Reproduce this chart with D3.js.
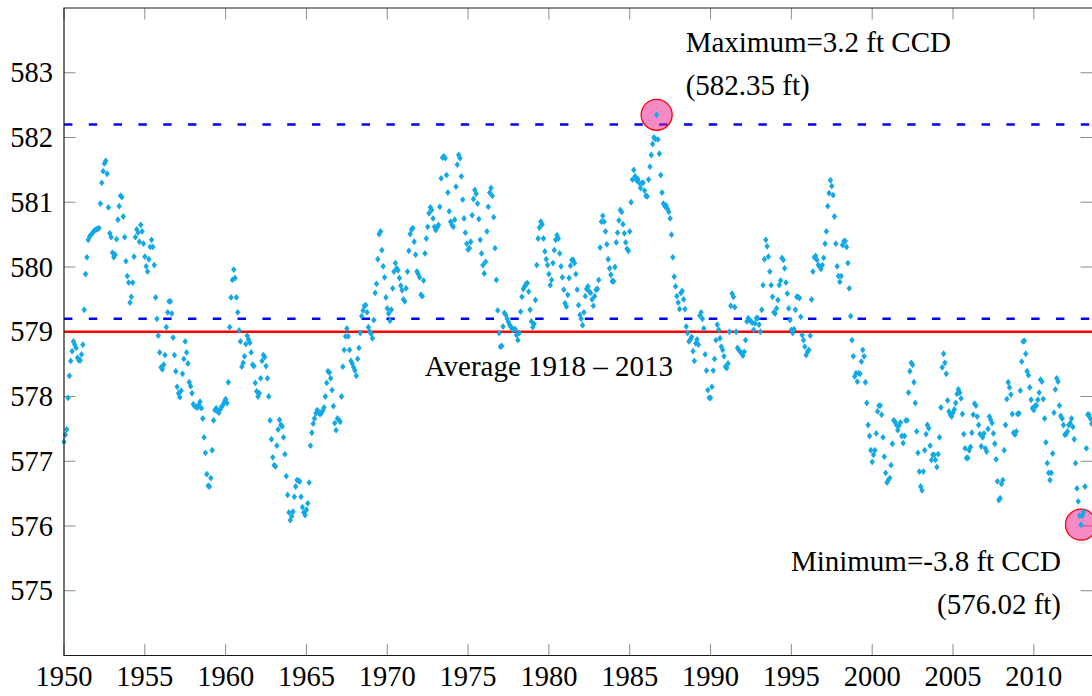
<!DOCTYPE html>
<html>
<head>
<meta charset="utf-8">
<script src="https://cdn.jsdelivr.net/npm/d3@7"></script>
<style>
  html, body { margin: 0; padding: 0; background: #fff; }
  svg { display: block; }
  text { font-family: 'Liberation Serif', 'Times New Roman', serif; fill: #000; }
</style>
</head>
<body>
<div id="chart"></div>
<script>
// monthly lake level (ft), one array per decade, starting January
const levels1950s = [
  577.30, 577.41, 577.49, 577.98, 578.32, 578.55, 578.70, 578.85, 578.80, 578.75, 578.60, 578.56,
  578.56, 578.65, 578.80, 579.34, 579.89, 580.15, 580.42, 580.47, 580.50, 580.52, 580.55, 580.57,
  580.58, 580.59, 580.60, 580.98, 581.30, 581.48, 581.60, 581.64, 581.44, 580.92, 580.52, 580.46,
  580.22, 580.15, 580.19, 580.43, 580.73, 580.94, 581.10, 581.08, 580.78, 580.46, 580.09, 579.86,
  579.76, 579.45, 579.54, 579.76, 580.16, 580.46, 580.58, 580.53, 580.39, 580.65, 580.55, 580.36,
  580.16, 580.01, 579.93, 580.12, 580.31, 580.42, 580.31, 580.03, 579.53, 579.20, 578.94, 578.68,
  578.45, 578.42, 578.49, 578.64, 579.07, 579.30, 579.47, 579.47, 579.28, 578.91, 578.64, 578.39,
  578.15, 578.05, 577.99, 578.09, 578.35, 578.58, 578.85, 578.68, 578.51, 578.22, 578.16, 578.05,
  577.88, 577.85, 577.84, 577.83, 577.87, 577.92, 577.82, 577.66, 577.37, 577.13, 576.80, 576.62,
  576.61, 576.74, 577.17, 577.63, 577.79, 577.82, 577.77, 577.75, 577.80, 577.84, 577.87, 577.92
];
const levels1960s = [
  577.96, 577.90, 578.22, 579.07, 579.53, 579.80, 579.96, 579.83, 579.53, 579.30, 579.02, 578.85,
  578.46, 578.52, 578.62, 578.81, 578.94, 578.88, 578.83, 578.68, 578.49, 578.47, 578.21, 578.08,
  578.00, 578.05, 578.28, 578.55, 578.64, 578.61, 578.47, 578.28, 578.00, 577.63, 577.34, 577.06,
  576.94, 576.92, 577.24, 577.49, 577.64, 577.56, 577.54, 577.37, 577.11, 576.77, 576.48, 576.21,
  576.09, 576.15, 576.22, 576.45, 576.61, 576.71, 576.70, 576.69, 576.45, 576.29, 576.21, 576.17,
  576.25, 576.35, 576.67, 577.24, 577.44, 577.58, 577.66, 577.74, 577.79, 577.75, 577.73, 577.74,
  577.78, 577.83, 578.00, 578.21, 578.39, 578.37, 578.28, 578.10, 577.85, 577.59, 577.48, 577.66,
  577.64, 577.61, 578.00, 578.46, 578.72, 578.93, 579.05, 578.93, 578.72, 578.55, 578.51, 578.45,
  578.40, 578.32, 578.58, 578.75, 578.98, 579.24, 579.33, 579.40, 579.41, 579.30, 579.07, 579.00,
  578.97, 578.90, 579.18, 579.60, 579.74, 580.12, 580.51, 580.55, 580.26, 580.01, 579.84, 579.53
];
const levels1970s = [
  579.36, 579.28, 579.17, 579.34, 579.67, 579.93, 580.06, 579.98, 579.95, 579.83, 579.71, 579.64,
  579.50, 579.47, 579.67, 579.93, 580.25, 580.51, 580.58, 580.60, 580.39, 580.19, 579.93, 579.89,
  579.84, 579.57, 579.55, 579.79, 580.21, 580.44, 580.62, 580.83, 580.92, 580.88, 580.75, 580.62,
  580.57, 580.61, 580.65, 580.93, 581.37, 581.69, 581.71, 581.68, 581.42, 581.15, 580.86, 580.70,
  580.65, 580.62, 580.73, 581.24, 581.58, 581.73, 581.68, 581.40, 581.04, 580.75, 580.53, 580.36,
  580.27, 580.29, 580.39, 580.80, 581.05, 581.19, 581.13, 580.98, 580.74, 580.42, 580.21, 580.03,
  579.90, 580.08, 580.55, 580.93, 581.15, 581.22, 581.10, 580.77, 580.29, 579.80, 579.33, 578.98,
  578.77, 578.78, 579.08, 579.29, 579.26, 579.20, 579.15, 579.10, 579.07, 579.03, 579.04, 579.04,
  578.95, 578.87, 578.98, 579.31, 579.54, 579.66, 579.70, 579.74, 579.75, 579.62, 579.34, 579.16,
  579.07, 579.12, 579.49, 580.03, 580.44, 580.61, 580.70, 580.66, 580.44, 580.24, 580.12, 580.03
];
const levels1980s = [
  579.89, 579.72, 579.80, 580.06, 580.26, 580.42, 580.49, 580.44, 580.21, 580.01, 579.84, 579.65,
  579.44, 579.39, 579.57, 579.83, 580.02, 580.11, 580.11, 580.06, 579.89, 579.65, 579.41, 579.26,
  579.20, 579.10, 579.30, 579.55, 579.66, 579.70, 579.62, 579.60, 579.50, 579.40, 579.55, 579.65,
  579.66, 579.80, 580.30, 580.70, 580.79, 580.70, 580.55, 580.35, 580.12, 579.98, 579.88, 579.78,
  579.78, 580.00, 580.38, 580.53, 580.72, 580.88, 580.85, 580.66, 580.52, 580.38, 580.28, 580.25,
  580.55, 581.00, 581.35, 581.50, 581.40, 581.34, 581.36, 581.30, 581.22, 581.30, 581.30, 581.18,
  581.10, 581.09, 581.35, 581.55, 581.73, 581.90, 582.00, 581.98, 582.35, 581.97, 581.75, 581.42,
  581.15, 580.98, 580.94, 580.95, 580.90, 580.85, 580.75, 580.50, 580.15, 579.85, 579.70, 579.55,
  579.45, 579.35, 579.60, 579.63, 579.50, 579.35, 579.08, 578.98, 578.85, 578.88, 578.92, 578.70,
  578.55, 578.82, 578.88, 578.80, 579.25, 579.30, 579.20, 579.05, 578.65, 578.40, 578.10, 577.98
];
const levels1990s = [
  577.98, 578.15, 578.40, 578.58, 578.87, 579.11, 579.03, 578.90, 578.77, 578.72, 578.62, 578.46,
  578.44, 578.51, 579.00, 579.40, 579.59, 579.54, 579.38, 579.00, 578.75, 578.72, 578.69, 578.67,
  578.63, 578.69, 578.87, 579.16, 579.21, 579.18, 579.16, 579.14, 579.03, 579.13, 579.21, 579.21,
  579.11, 579.00, 579.34, 579.72, 580.12, 580.42, 580.32, 580.16, 579.93, 579.72, 579.54, 579.30,
  579.28, 579.36, 579.49, 579.72, 579.79, 580.14, 580.11, 579.98, 579.76, 579.59, 579.36, 579.18,
  579.03, 578.98, 579.04, 579.34, 579.54, 579.54, 579.52, 579.23, 578.95, 578.87, 578.77, 578.64,
  578.69, 578.72, 578.94, 579.50, 579.93, 580.15, 580.17, 580.11, 580.03, 580.01, 579.97, 580.03,
  580.14, 580.36, 580.55, 580.94, 581.14, 581.34, 581.25, 581.11, 580.78, 580.36, 580.01, 579.86,
  579.77, 579.86, 580.34, 580.40, 580.40, 580.31, 580.06, 579.67, 579.24, 578.87, 578.62, 578.31,
  578.36, 578.23, 578.36, 578.35, 578.54, 578.72, 578.62, 578.22, 577.90, 577.56, 577.39, 577.17
];
const levels2000s = [
  576.99, 577.10, 577.17, 577.43, 577.77, 577.86, 577.86, 577.72, 577.37, 577.07, 576.82, 576.67,
  576.71, 576.74, 576.94, 577.27, 577.63, 577.61, 577.56, 577.48, 577.55, 577.60, 577.39, 577.28,
  577.39, 577.63, 577.63, 578.06, 578.39, 578.52, 578.49, 578.22, 577.90, 577.46, 577.13, 576.84,
  576.61, 576.55, 576.84, 577.17, 577.42, 577.56, 577.51, 577.24, 577.02, 577.10, 577.10, 577.02,
  576.91, 577.11, 577.37, 577.83, 578.45, 578.66, 578.52, 578.35, 577.94, 577.77, 577.72, 577.69,
  577.75, 577.80, 577.90, 578.04, 578.11, 578.06, 577.97, 577.73, 577.42, 577.20, 577.05, 577.05,
  577.17, 577.22, 577.44, 577.72, 577.89, 577.86, 577.69, 577.56, 577.42, 577.23, 577.37, 577.43,
  577.20, 577.15, 577.50, 577.69, 577.64, 577.59, 577.43, 577.27, 577.03, 576.69, 576.40, 576.43,
  576.65, 576.71, 577.17, 577.56, 577.96, 578.22, 578.14, 578.03, 577.73, 577.44, 577.41, 577.46,
  577.73, 577.74, 578.09, 578.54, 578.85, 578.86, 578.66, 578.39, 578.33, 578.14, 577.95, 577.82
];
const levels2010s = [
  577.79, 577.86, 577.86, 577.95, 578.06, 578.26, 578.23, 577.96, 577.66, 577.29, 576.97, 576.82,
  576.71, 576.82, 577.12, 577.75, 578.11, 578.28, 578.23, 577.86, 577.70, 577.66, 577.56, 577.41,
  577.42, 577.46, 577.56, 577.59, 577.66, 577.53, 577.34, 576.97, 576.58, 576.38, 576.16, 576.02,
  576.16, 576.22, 576.61, 577.20, 577.72, 577.72, 577.66, 577.58
];

const startYear = 1950;
const xTicks = [1950, 1955, 1960, 1965, 1970, 1975, 1980, 1985, 1990, 1995, 2000, 2005, 2010];
const yTicks = [575, 576, 577, 578, 579, 580, 581, 582, 583];
const dashedLevels = [582.2, 579.2];
const averageLevel = 579.0;
const maxLevel = 582.35;
const minLevel = 576.02;

const levels = [].concat(levels1950s, levels1960s, levels1970s, levels1980s,
  levels1990s, levels2000s, levels2010s);
const points = levels.map((v, i) => ({ t: startYear + i / 12, v }));
const maxPt = points.find(d => d.v === maxLevel);
const minPt = points.find(d => d.v === minLevel);

const W = 1092, H = 696;
const pLeft = 64, pRight = 1092, pTop = 8, pBottom = 655.5;

const x = d3.scaleLinear().domain([1950, 2013.6]).range([pLeft, pRight]);
const y = d3.scaleLinear().domain([574, 584]).range([pBottom, pTop]);

const svg = d3.select('#chart').append('svg')
  .attr('width', W)
  .attr('height', H);

const tickLen = 11.5;

// ticks on all four sides, pointing inward
const g = svg.append('g').attr('stroke', '#8c8c8c').attr('stroke-width', 1);
g.selectAll('line.xb')
  .data(xTicks)
  .join('line')
  .attr('x1', d => x(d)).attr('x2', d => x(d))
  .attr('y1', pBottom).attr('y2', pBottom - tickLen);
g.selectAll('line.xt')
  .data(xTicks)
  .join('line')
  .attr('class', 'xt')
  .attr('x1', d => x(d)).attr('x2', d => x(d))
  .attr('y1', pTop).attr('y2', pTop + tickLen);
g.selectAll('line.yl')
  .data(yTicks)
  .join('line')
  .attr('class', 'yl')
  .attr('x1', pLeft).attr('x2', pLeft + tickLen)
  .attr('y1', d => y(d)).attr('y2', d => y(d));
g.selectAll('line.yr')
  .data(yTicks)
  .join('line')
  .attr('class', 'yr')
  .attr('x1', pRight).attr('x2', pRight - tickLen)
  .attr('y1', d => y(d)).attr('y2', d => y(d));

svg.selectAll('text.xlab')
  .data(xTicks)
  .join('text')
  .attr('class', 'xlab')
  .attr('x', d => x(d))
  .attr('y', 686)
  .attr('text-anchor', 'middle')
  .attr('font-size', 28.5)
  .text(d => d);

svg.selectAll('text.ylab')
  .data(yTicks)
  .join('text')
  .attr('class', 'ylab')
  .attr('x', 53)
  .attr('y', d => y(d))
  .attr('dy', '0.34em')
  .attr('text-anchor', 'end')
  .attr('font-size', 28.5)
  .text(d => d);

// reference lines
svg.selectAll('line.dash')
  .data(dashedLevels)
  .join('line')
  .attr('class', 'dash')
  .attr('x1', pLeft).attr('x2', pRight)
  .attr('y1', d => y(d)).attr('y2', d => y(d))
  .attr('stroke', '#0000ff')
  .attr('stroke-width', 2.4)
  .attr('stroke-dasharray', '8.4 16.4');

svg.append('line')
  .attr('x1', pLeft).attr('x2', pRight)
  .attr('y1', y(averageLevel)).attr('y2', y(averageLevel))
  .attr('stroke', '#ff0000')
  .attr('stroke-width', 2.6);

// highlight circles for max and min
svg.selectAll('circle.hl')
  .data([maxPt, minPt])
  .join('circle')
  .attr('class', 'hl')
  .attr('cx', d => x(d.t))
  .attr('cy', d => y(d.v))
  .attr('r', 15.5)
  .attr('fill', 'rgb(236,22,140)')
  .attr('fill-opacity', 0.5)
  .attr('stroke', '#ff0000')
  .attr('stroke-width', 1.3);

const diamond = 'M0,-3.4L2.7,0L0,3.4L-2.7,0Z';
svg.append('g')
  .selectAll('path')
  .data(points)
  .join('path')
  .attr('transform', d => `translate(${x(d.t)},${y(d.v)})`)
  .attr('d', diamond)
  .attr('fill', '#12a9e6');

// frame
svg.append('path')
  .attr('d', `M${pRight},${pTop}H${pLeft}V${pBottom}H${pRight}`)
  .attr('fill', 'none')
  .attr('stroke', '#1a1a1a')
  .attr('stroke-width', 1.2);

// annotations
const ann = svg.append('g').attr('font-size', 29);
ann.append('text')
  .attr('x', x(maxPt.t) + 29).attr('y', 52)
  .text('Maximum=3.2 ft CCD');
ann.append('text')
  .attr('x', x(maxPt.t) + 29).attr('y', 95)
  .text(`(${maxLevel} ft)`);
ann.append('text')
  .attr('x', x(1980)).attr('y', y(averageLevel) + 44)
  .attr('text-anchor', 'middle')
  .text('Average 1918 \u2013 2013');
ann.append('text')
  .attr('x', 1061).attr('y', 571)
  .attr('text-anchor', 'end')
  .text('Minimum=-3.8 ft CCD');
ann.append('text')
  .attr('x', 1061).attr('y', 614)
  .attr('text-anchor', 'end')
  .text(`(${minLevel} ft)`);
</script>
</body>
</html>
